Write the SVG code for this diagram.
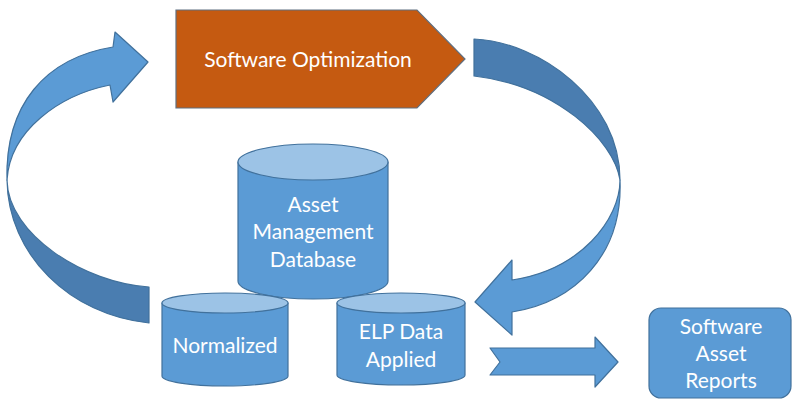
<svg xmlns="http://www.w3.org/2000/svg" width="800" height="404" viewBox="0 0 800 404">
<style>
.l{fill:#5B9BD5;stroke:#41719C;stroke-width:1.2;stroke-linejoin:round}
.d{fill:#4A7DB0;stroke:#41719C;stroke-width:1.2;stroke-linejoin:round}
.top{fill:#9CC3E6;stroke:#41719C;stroke-width:1.2}
.o{fill:#C55A11;stroke:#5F6F80;stroke-width:1.2}
text{font-family:Lato,"Open Sans",sans-serif;font-size:21px;fill:#FFFFFF;text-anchor:middle}
</style>
<rect width="800" height="404" fill="#FFFFFF"/>
<g id="connectors">
  <g id="arrow-left">
    <path class="d" d="M7,180 C8,255 70,315 149,323 L149,287 C85,283 8,235 7,180 Z"/>
    <path class="l" d="M7,180 C5,105 45,58 113,47 L115,32 L148,62 L113,102 L110,85 C60,95 10,130 7,180 Z"/>
  </g>
  <g id="arrow-right">
    <path class="d" d="M474,39 C540,42 620,100 620,180 C614,140 555,85 474,76 Z"/>
    <path class="l" d="M620,180 C620,220 580,270 512,280 L512,260 L475,302 L512,335 L512,312 C575,302 623,255 620,180 Z"/>
  </g>
  <path id="arrow-reports" class="l" d="M490,348 L595,348 L595,337 L618,362 L595,387 L595,375 L490,375 L500,362 Z"/>
</g>
<g id="software-optimization">
  <path class="o" d="M176,10 L417,10 L465,59 L417,108 L176,108 Z"/>
  <text x="308" y="67">Software Optimization</text>
</g>
<g id="asset-management-database">
  <path class="l" d="M238,162 L238,281 A75,18 0 0 0 388,281 L388,162 Z"/>
  <ellipse class="top" cx="313" cy="162" rx="75" ry="18"/>
  <text x="313" y="212">Asset</text>
  <text x="313" y="239">Management</text>
  <text x="313" y="267">Database</text>
</g>
<g id="normalized">
  <path class="l" d="M162,303 L162,376 A63,10 0 0 0 288,376 L288,303 Z"/>
  <ellipse class="top" cx="225" cy="303" rx="63" ry="10"/>
  <text x="225" y="353">Normalized</text>
</g>
<g id="elp-data-applied">
  <path class="l" d="M337,303 L337,375 A64,10 0 0 0 465,375 L465,303 Z"/>
  <ellipse class="top" cx="401" cy="303" rx="64" ry="10"/>
  <text x="401" y="339">ELP Data</text>
  <text x="401" y="367">Applied</text>
</g>
<g id="software-asset-reports">
  <rect class="l" x="649" y="308" width="142" height="90" rx="12"/>
  <text x="721" y="334">Software</text>
  <text x="721" y="361">Asset</text>
  <text x="721" y="388">Reports</text>
</g>
</svg>
